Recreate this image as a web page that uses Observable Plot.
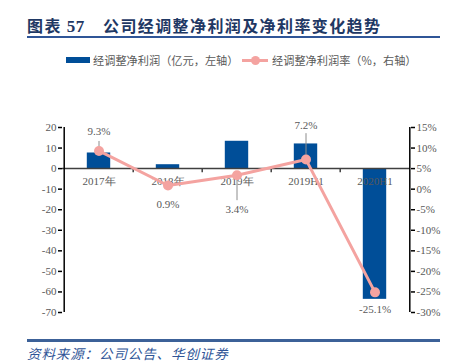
<!DOCTYPE html>
<html>
<head>
<meta charset="utf-8">
<script src="https://cdn.jsdelivr.net/npm/d3@7"></script>
<script src="https://cdn.jsdelivr.net/npm/@observablehq/plot@0.6"></script>
<style>
  html, body { margin: 0; padding: 0; background: #fff; }
  #wrap { position: relative; width: 456px; height: 363px; overflow: hidden; }
  #chart { position: absolute; left: 0; top: 0; }
  .abs { position: absolute; white-space: nowrap; }
  #title { left: 27px; top: 14px; font-family: "Noto Sans CJK SC", sans-serif; font-weight: bold; font-size: 16px; color: #1F3864; line-height: 22px; letter-spacing: 1.4px; }
  #title .num { font-family: "Liberation Serif", serif; font-size: 17px; letter-spacing: 0.5px; margin-left: 5px; }
  #title .main { position: absolute; left: 76px; top: 0; }
  .rule { position: absolute; left: 27px; width: 413px; background: #2F5597; }
  .legtext { font-family: "Noto Sans CJK SC", sans-serif; font-size: 11.2px; color: #595959; line-height: 14px; top: 53px; }
  #source { left: 27px; top: 345px; font-family: "Noto Sans CJK SC", sans-serif; font-style: italic; font-size: 13.5px; color: #2F5597; line-height: 16px; letter-spacing: 0.9px; }
</style>
</head>
<body>
<div id="wrap">
  <div id="chart"></div>
  <div class="abs" id="title">图表<span class="num">57</span><span class="main">公司经调整净利润及净利率变化趋势</span></div>
  <div class="rule" style="top:36px;height:2px;"></div>
  <div class="abs" style="left:66px;top:57px;width:24px;height:6px;background:#004E98;"></div>
  <div class="abs legtext" id="leg1" style="left:93px;"></div>
  <div class="abs" style="left:242px;top:59px;width:26px;height:3px;background:#F4A3A0;"></div>
  <div class="abs" style="left:251px;top:56px;width:9px;height:9px;border-radius:50%;background:#F4A3A0;"></div>
  <div class="abs legtext" id="leg2" style="left:272px;"></div>
  <div class="rule" style="top:339px;height:3px;background:#3C6198;"></div>
  <div class="abs" id="source">资料来源：公司公告、华创证券</div>
</div>
<script>
// ---- data ----
const categories = ["2017年", "2018年", "2019年", "2019H1", "2020H1"];
const adjProfit = [7.6, 1.9, 13.3, 12.0, -63.6];      // 亿元, left axis
const adjMargin = [9.3, 0.9, 3.4, 7.2, -25.1];        // %, right axis
const leftTicks = [20, 10, 0, -10, -20, -30, -40, -50, -60, -70];
const rightTicks = [15, 10, 5, 0, -5, -10, -15, -20, -25, -30];
const seriesNames = ["经调整净利润（亿元，左轴）", "经调整净利润率（%，右轴）"];

document.getElementById("leg1").textContent = seriesNames[0];
document.getElementById("leg2").textContent = seriesNames[1];

// right axis (%) mapped onto left axis units: 5% <-> 0, 15% <-> 20, -30% <-> -70
const toLeft = p => (p - 5) * 2;
const rows = categories.map((c, i) => ({c, profit: adjProfit[i], margin: adjMargin[i], my: toLeft(adjMargin[i])}));

const W = 456, H = 363, mL = 62, mR = 46;
const bw = (W - mL - mR) / categories.length;
const barInset = (bw - 24) / 2;
const blue = "#004E98", pink = "#F4A3A0", gray = "#595959";
const serif = "'Liberation Serif', 'Times New Roman', serif";

// label layout (pixels) and leader lines (left-axis units relative to point)
const labelDy = [-19, 19, 34, -34, 17];
const leaders = [[1.6, 4.6], null, [-1.3, -12.4], [1.6, 12.6], null];

const labelMarks = rows.map((r, i) => Plot.text([r], {
  x: "c", y: "my", text: d => d.margin.toFixed(1) + "%", dy: labelDy[i],
  fill: gray, fontSize: 11, fontFamily: serif
}));
const leaderMarks = rows.map((r, i) => leaders[i] ? Plot.ruleX([r], {
  x: "c", y1: d => d.my + leaders[i][0], y2: d => d.my + leaders[i][1],
  stroke: "#8C8C8C", strokeWidth: 1
}) : null).filter(Boolean);

const chart = Plot.plot({
  width: W, height: H,
  marginTop: 127, marginBottom: 51, marginLeft: mL, marginRight: mR,
  x: {domain: categories, padding: 0, axis: null},
  y: {domain: [-70, 20], axis: null},
  style: {fontFamily: serif, fontSize: "11px", color: gray, background: "transparent"},
  marks: [
    Plot.barY(rows, {x: "c", y: "profit", fill: blue, insetLeft: barInset, insetRight: barInset}),
    Plot.ruleY([0], {stroke: "#404040", strokeWidth: 1.5}),
    Plot.ruleX(categories.slice(1), {x: d => d, dx: -bw / 2, y1: 0, y2: -2, stroke: "#404040", strokeWidth: 1.5}),
    Plot.text(categories, {x: d => d, y: 0, dy: 13, fill: gray, fontSize: 11, fontFamily: serif}),
    // left axis
    Plot.ruleX([categories[0]], {x: d => d, dx: -bw / 2, y1: -70, y2: 20, stroke: "#000", strokeWidth: 1.5}),
    Plot.axisY(leftTicks, {anchor: "left", tickSize: 4, tickPadding: 2, tickFormat: d => String(d), stroke: "#000", fill: gray, strokeWidth: 1.5, fontSize: 11}),
    // right axis
    Plot.ruleX([categories[categories.length - 1]], {x: d => d, dx: bw / 2, y1: -70, y2: 20, stroke: "#000", strokeWidth: 1.5}),
    Plot.axisY(rightTicks.map(toLeft), {anchor: "right", tickSize: 4, tickPadding: 2, tickFormat: d => (d / 2 + 5) + "%", stroke: "#000", fill: gray, strokeWidth: 1.5, fontSize: 11}),
    // line series
    Plot.line(rows, {x: "c", y: "my", stroke: pink, strokeWidth: 3}),
    ...leaderMarks,
    Plot.dot(rows, {x: "c", y: "my", r: 5, fill: pink, stroke: "none"}),
    ...labelMarks
  ]
});
document.getElementById("chart").appendChild(chart);
</script>
</body>
</html>
